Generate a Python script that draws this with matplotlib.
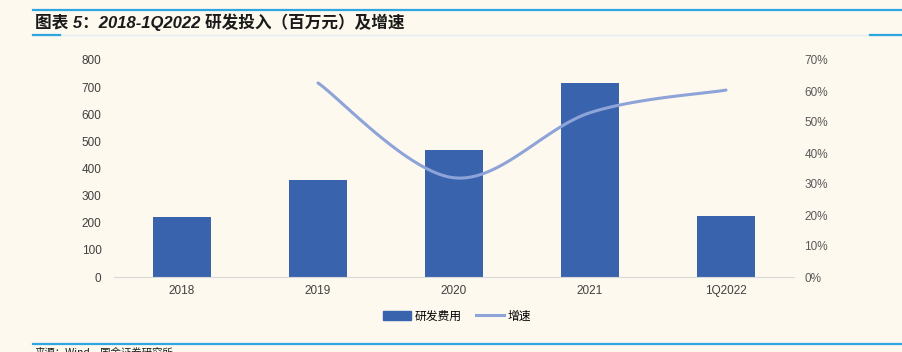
import numpy as np
import matplotlib.pyplot as plt
from matplotlib.lines import Line2D
from matplotlib.patches import Patch

plt.rcParams['font.family'] = ['Liberation Sans', 'Noto Sans CJK SC', 'DejaVu Sans']

# data
categories = ['2018', '2019', '2020', '2021', '1Q2022']
rd_spend = [221, 358, 468, 716, 225]          # 研发费用（百万元）
growth = [None, 62.6, 32.0, 53.0, 60.3]       # 增速 %

bar_color = '#3A63AD'
line_color = '#8EA3D8'
bg = '#FDF9EF'
accent = '#2EA7E0'

fig = plt.figure(figsize=(9.03, 3.52), dpi=100, facecolor=bg)
ax = fig.add_axes([114 / 903, 1 - 277 / 352, 680 / 903, 217 / 352])
ax.set_facecolor(bg)

x = np.arange(len(categories))
ax.bar(x, rd_spend, width=0.42, color=bar_color, zorder=2)
ax.set_xlim(-0.5, len(categories) - 0.5)
ax.set_ylim(0, 800)
ax.set_yticks(range(0, 801, 100))
ax.set_xticks(x)
ax.set_xticklabels(categories)
for s in ['top', 'right', 'left']:
    ax.spines[s].set_visible(False)
ax.spines['bottom'].set_color('#D9D9D9')
ax.tick_params(axis='both', length=0, labelsize=8.5, colors='#404040')
ax.tick_params(axis='y', pad=9)
ax.tick_params(axis='x', pad=6)

ax2 = ax.twinx()
ax2.set_ylim(0, 70)
ax2.set_yticks(range(0, 71, 10))
ax2.set_yticklabels([f'{v}%' for v in range(0, 71, 10)])
for s in ax2.spines.values():
    s.set_visible(False)
ax2.tick_params(axis='y', length=0, labelsize=8.5, colors='#595959', pad=7.5)

# smoothed line (Catmull-Rom through the points, like Excel's smoothing)
gx = np.array([i for i, g in enumerate(growth) if g is not None], dtype=float)
gy = np.array([g for g in growth if g is not None], dtype=float)
px = np.concatenate([[gx[0]], gx, [gx[-1]]])
py = np.concatenate([[gy[0]], gy, [gy[-1]]])
cx, cy = [], []
t = np.linspace(0, 1, 40)
for i in range(1, len(px) - 2):
    p0, p1, p2, p3 = [np.array([px[j], py[j]]) for j in (i - 1, i, i + 1, i + 2)]
    b1 = p1 + (p2 - p0) / 6
    b2 = p2 - (p3 - p1) / 6
    pts = ((1 - t) ** 3)[:, None] * p1 + (3 * (1 - t) ** 2 * t)[:, None] * b1 \
        + (3 * (1 - t) * t ** 2)[:, None] * b2 + (t ** 3)[:, None] * p2
    cx.extend(pts[:, 0])
    cy.extend(pts[:, 1])
ax2.plot(cx, cy, color=line_color, lw=2.2, solid_capstyle='round', zorder=3)

# legend
handles = [Patch(color=bar_color, label='研发费用'),
           Line2D([0], [0], color=line_color, lw=2.2, label='增速')]
fig.legend(handles=handles, loc='center', bbox_to_anchor=(457 / 903, 1 - 316 / 352),
           ncol=2, frameon=False, handlelength=2.4, handleheight=0.9,
           handletextpad=0.3, columnspacing=1.2,
           prop={'family': ['Noto Sans CJK SC'], 'size': 8.5})

# title band
fig.add_artist(Line2D([33 / 903, 1], [1 - 10 / 352] * 2, color=accent, lw=1.6))
fig.add_artist(Line2D([33 / 903, 1], [1 - 35 / 352] * 2, color='#E3EEF3', lw=1.0))
fig.add_artist(Line2D([33 / 903, 60 / 903], [1 - 35 / 352] * 2, color=accent, lw=1.6))
fig.add_artist(Line2D([870 / 903, 1], [1 - 35 / 352] * 2, color=accent, lw=1.6))
fig.text(35 / 903, 1 - 22 / 352, '图表 5：2018-1Q2022 研发投入（百万元）及增速',
         fontsize=12, fontweight='bold', style='italic', va='center', ha='left',
         family=['Liberation Sans', 'Noto Sans CJK SC'], color='#1A1A1A')

# bottom rule and source (cut off at the edge, as in the reference)
fig.add_artist(Line2D([33 / 903, 1], [1 - 344 / 352] * 2, color=accent, lw=1.6))
fig.text(35 / 903, 1 - 353 / 352, '来源：Wind，国金证券研究所', fontsize=7.5,
         va='center', ha='left', family=['Noto Sans CJK SC'], color='#1A1A1A')

fig.savefig('out.png', dpi=100, facecolor=bg)
